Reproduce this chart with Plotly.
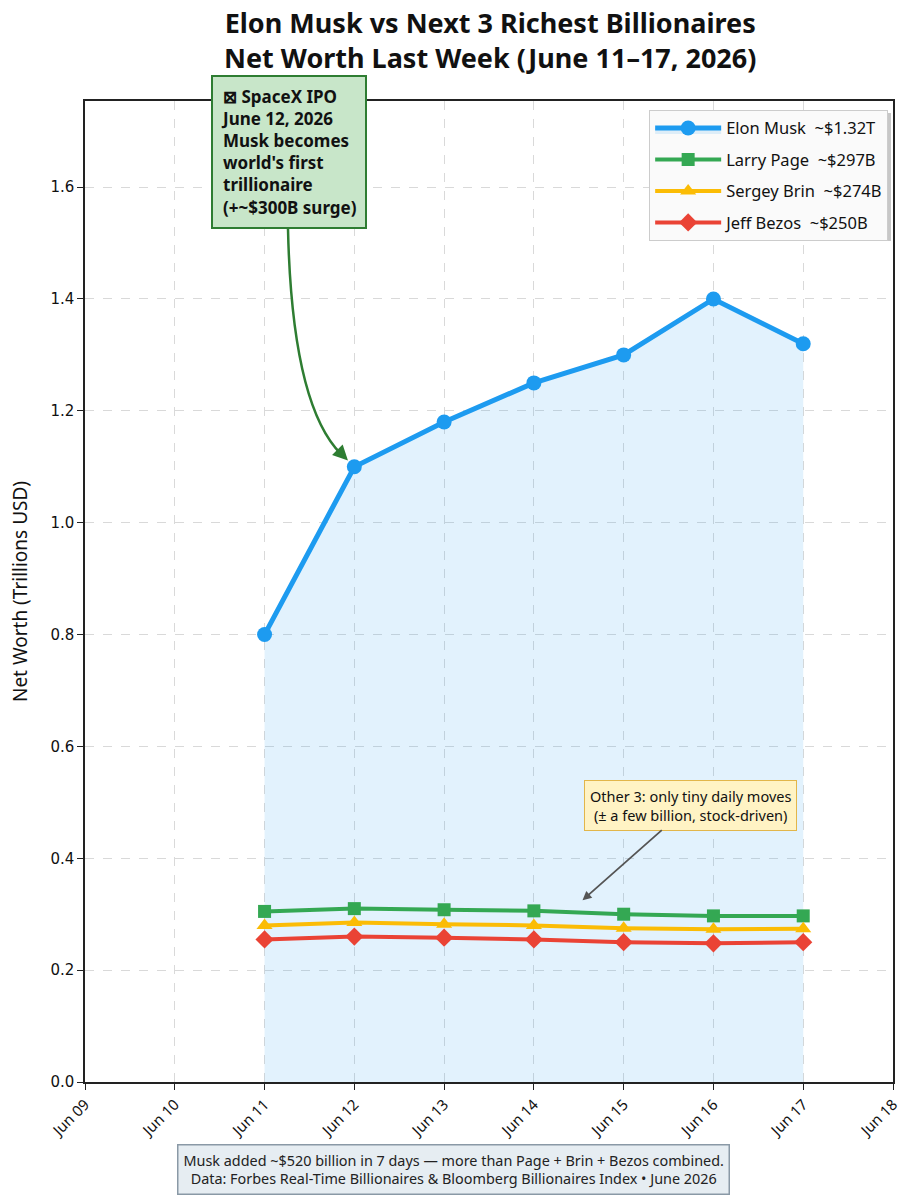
import plotly.graph_objects as go

dates = ["2026-06-11", "2026-06-12", "2026-06-13", "2026-06-14",
         "2026-06-15", "2026-06-16", "2026-06-17"]
musk = [0.80, 1.10, 1.18, 1.25, 1.30, 1.40, 1.32]
page = [0.305, 0.310, 0.308, 0.306, 0.300, 0.297, 0.297]
brin = [0.280, 0.285, 0.282, 0.280, 0.275, 0.273, 0.274]
bezos = [0.255, 0.260, 0.258, 0.255, 0.250, 0.248, 0.250]
names = ["Elon Musk  ~$1.32T", "Larry Page  ~$297B",
         "Sergey Brin  ~$274B", "Jeff Bezos  ~$250B"]
y_ticks = [0.0, 0.2, 0.4, 0.6, 0.8, 1.0, 1.2, 1.4, 1.6]

FONT = "Noto Sans"
fig = go.Figure()

fig.add_trace(go.Scatter(x=dates, y=musk, mode="lines+markers", name=names[0], legendgroup="a",
                         line=dict(color="#1d9bf0", width=5),
                         marker=dict(symbol="circle", size=15, color="#1d9bf0"),
                         fill="tozeroy", fillcolor="rgba(29,155,240,0.13)"))
fig.add_trace(go.Scatter(x=dates, y=page, mode="lines+markers", name=names[1], legendgroup="b",
                         line=dict(color="#34a853", width=4),
                         marker=dict(symbol="square", size=13, color="#34a853")))
fig.add_trace(go.Scatter(x=dates, y=brin, mode="lines+markers", name=names[2], legendgroup="c",
                         line=dict(color="#fbbc05", width=4),
                         marker=dict(symbol="triangle-up", size=14, color="#fbbc05")))
fig.add_trace(go.Scatter(x=dates, y=bezos, mode="lines+markers", name=names[3], legendgroup="d",
                         line=dict(color="#ea4335", width=4),
                         marker=dict(symbol="diamond", size=14, color="#ea4335")))

fig.update_layout(
    width=904, height=1200,
    margin=dict(l=85, r=11, t=101, b=118, autoexpand=False),
    paper_bgcolor="white", plot_bgcolor="white",
    font=dict(family=FONT, color="#111111"),
    showlegend=True,
    legend=dict(x=0.994, xanchor="right", y=0.991, yanchor="top",
                bgcolor="rgba(250,250,250,1)", bordercolor="#cccccc", borderwidth=1,
                font=dict(size=16.5, family=FONT, color="#111111"),
                itemwidth=66, tracegroupgap=7),
)

fig.update_xaxes(
    type="date", range=["2026-06-09", "2026-06-18"], automargin=False,
    dtick=86400000, tick0="2026-06-09", tickformat="%b %d", tickangle=-45,
    showgrid=True, gridcolor="#d9d9d9", griddash="dash", gridwidth=1,
    showline=True, linecolor="#222222", linewidth=1.5, mirror=True,
    ticks="outside", ticklen=6, tickcolor="#222222",
    tickfont=dict(size=15, family=FONT, color="#111111"),
)
fig.update_yaxes(
    range=[0, 1.754], tickvals=y_ticks, tickformat=".1f", automargin=False,
    showgrid=True, gridcolor="#d9d9d9", griddash="dash", gridwidth=1,
    showline=True, linecolor="#222222", linewidth=1.5, mirror=True,
    ticks="outside", ticklen=6, tickcolor="#222222",
    tickfont=dict(size=15, family="DejaVu Sans", color="#111111"),
    title=dict(text="Net Worth (Trillions USD)", font=dict(size=19, family=FONT, color="#111111"),
               standoff=18),
    zeroline=False,
)

# Title
fig.add_annotation(
    x=(490 - 85) / 808, y=(1082 - 40) / 981, xref="paper", yref="paper",
    xanchor="center", yanchor="middle", showarrow=False,
    text="<b>Elon Musk vs Next 3 Richest Billionaires<br>Net Worth Last Week (June 11–17, 2026)</b>",
    font=dict(size=27, family=FONT, color="#111111"),
)

# Legend shadow
fig.add_shape(type="rect", xref="paper", yref="paper",
              x0=(651 - 85) / 808, x1=(891 - 85) / 808,
              y0=(1082 - 241) / 981, y1=(1082 - 113) / 981,
              fillcolor="rgba(0,0,0,0.22)", line=dict(width=0), layer="below")

# Curved connector from IPO box to the Jun 12 point
def px(xp, yp):
    return (xp - 85) / 808, (1082 - yp) / 981

p0 = px(288, 229)
pc = px(292, 405)
p1 = px(341, 454)
fig.add_shape(type="path", xref="paper", yref="paper",
              path=f"M {p0[0]} {p0[1]} Q {pc[0]} {pc[1]} {p1[0]} {p1[1]}",
              line=dict(color="#2e7d32", width=2.5))
fig.add_annotation(
    x="2026-06-12", y=musk[1], xref="x", yref="y",
    ax=-14, ay=-14, text="", showarrow=True, arrowhead=2, arrowsize=1.2,
    arrowwidth=2.5, arrowcolor="#2e7d32", standoff=9,
)

fig.add_annotation(
    x="2026-06-11 06:30", y=1.662, xref="x", yref="y",
    xanchor="center", yanchor="middle", showarrow=False,
    text="<b>⊠ SpaceX IPO<br>June 12, 2026<br>Musk becomes<br>world's first<br>trillionaire<br>(+~$300B surge)</b>",
    align="left",
    bgcolor="#c8e6c9", bordercolor="#2e7d32", borderwidth=2, borderpad=8,
    font=dict(size=17, family=FONT, color="#111111"),
)

fig.add_annotation(
    x="2026-06-14 13:00", y=0.325, xref="x", yref="y",
    ax="2026-06-15 17:45", ay=0.495, axref="x", ayref="y",
    text="Other 3: only tiny daily moves<br>(± a few billion, stock-driven)",
    align="center", showarrow=True, arrowhead=2, arrowsize=1, arrowwidth=1.8,
    arrowcolor="#555555",
    bgcolor="#fff3c4", bordercolor="#e2b64a", borderwidth=1, borderpad=5,
    font=dict(size=14.5, family=FONT, color="#111111"),
)

fig.add_annotation(
    x=(453 - 85) / 808, y=(1082 - 1169) / 981, xref="paper", yref="paper",
    xanchor="center", yanchor="middle",
    text="Musk added ~$520 billion in 7 days — more than Page + Brin + Bezos combined.<br>Data: Forbes Real-Time Billionaires & Bloomberg Billionaires Index • June 2026",
    showarrow=False, align="center",
    bgcolor="#e6edf2", bordercolor="#8a99a6", borderwidth=1.5, borderpad=5,
    font=dict(size=14.4, family=FONT, color="#222222"),
)

fig.write_html("out.html")
